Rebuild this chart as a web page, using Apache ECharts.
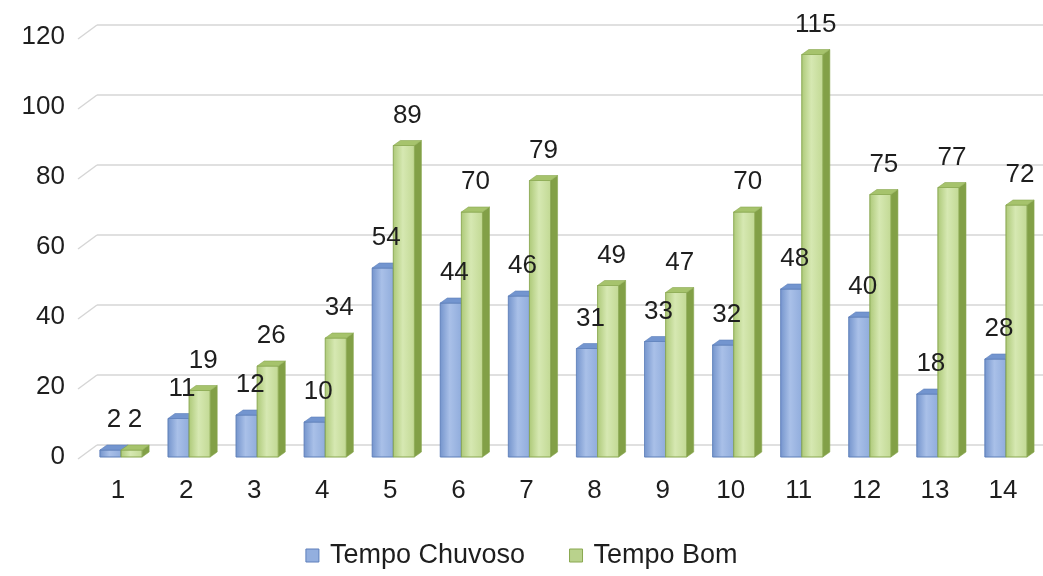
<!DOCTYPE html>
<html>
<head>
<meta charset="utf-8">
<script src="https://cdn.jsdelivr.net/npm/echarts@6/dist/echarts.min.js"></script>
<style>
  html, body { margin: 0; padding: 0; background: #ffffff; }
  #chart { width: 1043px; height: 576px; }
</style>
</head>
<body>
<div id="chart"></div>
<script>
// Days and counts for the two weather conditions
const categories = ['1', '2', '3', '4', '5', '6', '7', '8', '9', '10', '11', '12', '13', '14'];
const tempoChuvoso = [2, 11, 12, 10, 54, 44, 46, 31, 33, 32, 48, 40, 18, 28];
const tempoBom = [2, 19, 26, 34, 89, 70, 79, 49, 47, 70, 115, 75, 77, 72];
const yTicks = [0, 20, 40, 60, 80, 100, 120];

const FONT = '"Liberation Sans", Arial, sans-serif';
const TEXT = '#1e1e1e';
const FS = 26;

// Shaded faces of each 3D column
const palettes = [
  {
    front: new echarts.graphic.LinearGradient(0, 0, 1, 0, [
      { offset: 0, color: '#7494cc' },
      { offset: 0.45, color: '#a9c0e8' },
      { offset: 1, color: '#90acdc' }
    ]),
    top: '#7395cf',
    side: '#5479b6',
    edge: '#5e7fbb',
    legend: '#93afdf'
  },
  {
    front: new echarts.graphic.LinearGradient(0, 0, 1, 0, [
      { offset: 0, color: '#adc978' },
      { offset: 0.45, color: '#d6e8b2' },
      { offset: 1, color: '#c2d994' }
    ]),
    top: '#a6c36c',
    side: '#82a047',
    edge: '#8aa851',
    legend: '#b9d28c'
  }
];

const DX = 7, DY = -5;

function columnRenderer(seriesIdx) {
  const pal = palettes[seriesIdx];
  return function (params, api) {
    const idx = api.value(0);
    const val = api.value(1);
    const base = api.coord([idx, 0]);
    const top = api.coord([idx, val]);
    const band = api.size([1, 0])[0];
    const w = band * 0.31;
    const x0 = base[0] - w + seriesIdx * w;
    const x1 = x0 + w;
    const yt = top[1], yb = base[1];
    return {
      type: 'group',
      children: [
        {
          type: 'polygon',
          shape: { points: [[x1, yt], [x1 + DX, yt + DY], [x1 + DX, yb + DY], [x1, yb]] },
          style: { fill: pal.side, stroke: pal.edge, lineWidth: 0.6 }
        },
        {
          type: 'rect',
          shape: { x: x0, y: yt, width: w, height: yb - yt },
          style: { fill: pal.front, stroke: pal.edge, lineWidth: 0.6 }
        },
        {
          type: 'polygon',
          shape: { points: [[x0, yt], [x0 + DX, yt + DY], [x1 + DX, yt + DY], [x1, yt]] },
          style: { fill: pal.top, stroke: pal.edge, lineWidth: 0.6 }
        },
        {
          type: 'text',
          z2: 100,
          style: {
            text: String(val),
            x: x0 + w / 2 + DX / 2,
            y: yt + DY - 12,
            textAlign: 'center',
            textVerticalAlign: 'bottom',
            fill: TEXT,
            font: FS + 'px ' + FONT
          }
        }
      ]
    };
  };
}

const chart = echarts.init(document.getElementById('chart'), null, { renderer: 'canvas' });

chart.setOption({
  backgroundColor: '#ffffff',
  animation: false,
  textStyle: { fontFamily: FONT },
  grid: [
    { left: 87, right: 3, top: 37, bottom: 119 },   // front plane (columns, labels)
    { left: 97, right: 0, top: 25, bottom: 131 }    // back wall (gridlines)
  ],
  legend: {
    bottom: 2,
    left: 'center',
    itemWidth: 13,
    itemHeight: 13,
    itemGap: 44,
    icon: 'rect',
    textStyle: { fontSize: 27, color: TEXT, fontFamily: FONT, padding: [0, 0, 0, 6] },
    data: [
      { name: 'Tempo Chuvoso', itemStyle: { color: palettes[0].legend, borderColor: palettes[0].edge, borderWidth: 1 } },
      { name: 'Tempo Bom', itemStyle: { color: palettes[1].legend, borderColor: palettes[1].edge, borderWidth: 1 } }
    ]
  },
  xAxis: [
    {
      type: 'category', gridIndex: 0, data: categories,
      axisLine: { show: false }, axisTick: { show: false },
      axisLabel: { margin: 21, fontSize: FS, color: TEXT, fontFamily: FONT, padding: [0, 6, 0, 0] }
    },
    { type: 'category', gridIndex: 1, data: categories, show: false }
  ],
  yAxis: [
    {
      type: 'value', gridIndex: 0, min: 0, max: 120, interval: 20,
      axisLine: { show: false }, axisTick: { show: false }, splitLine: { show: false },
      axisLabel: { margin: 22, fontSize: FS, color: TEXT, fontFamily: FONT }
    },
    {
      type: 'value', gridIndex: 1, min: 0, max: 120, interval: 20,
      axisLine: { show: false }, axisTick: { show: false }, axisLabel: { show: false },
      splitLine: { lineStyle: { color: '#d6d6d6', width: 1.5 } }
    }
  ],
  series: [
    {
      name: 'Tempo Chuvoso', type: 'custom', xAxisIndex: 0, yAxisIndex: 0,
      itemStyle: { color: palettes[0].legend },
      encode: { x: 0, y: 1 },
      renderItem: columnRenderer(0),
      data: tempoChuvoso.map((v, i) => [i, v])
    },
    {
      name: 'Tempo Bom', type: 'custom', xAxisIndex: 0, yAxisIndex: 0,
      itemStyle: { color: palettes[1].legend },
      encode: { x: 0, y: 1 },
      renderItem: columnRenderer(1),
      data: tempoBom.map((v, i) => [i, v])
    }
  ]
});

// Short slanted segments joining the side wall to each back-wall gridline
const slants = yTicks.map(function (t) {
  const fy = chart.convertToPixel({ yAxisIndex: 0 }, t);
  const by = chart.convertToPixel({ yAxisIndex: 1 }, t);
  return {
    type: 'line',
    shape: { x1: 78, y1: fy + 2, x2: 97, y2: by },
    style: { stroke: '#d6d6d6', lineWidth: 1.5 },
    silent: true
  };
});
chart.setOption({ graphic: slants });
</script>
</body>
</html>
